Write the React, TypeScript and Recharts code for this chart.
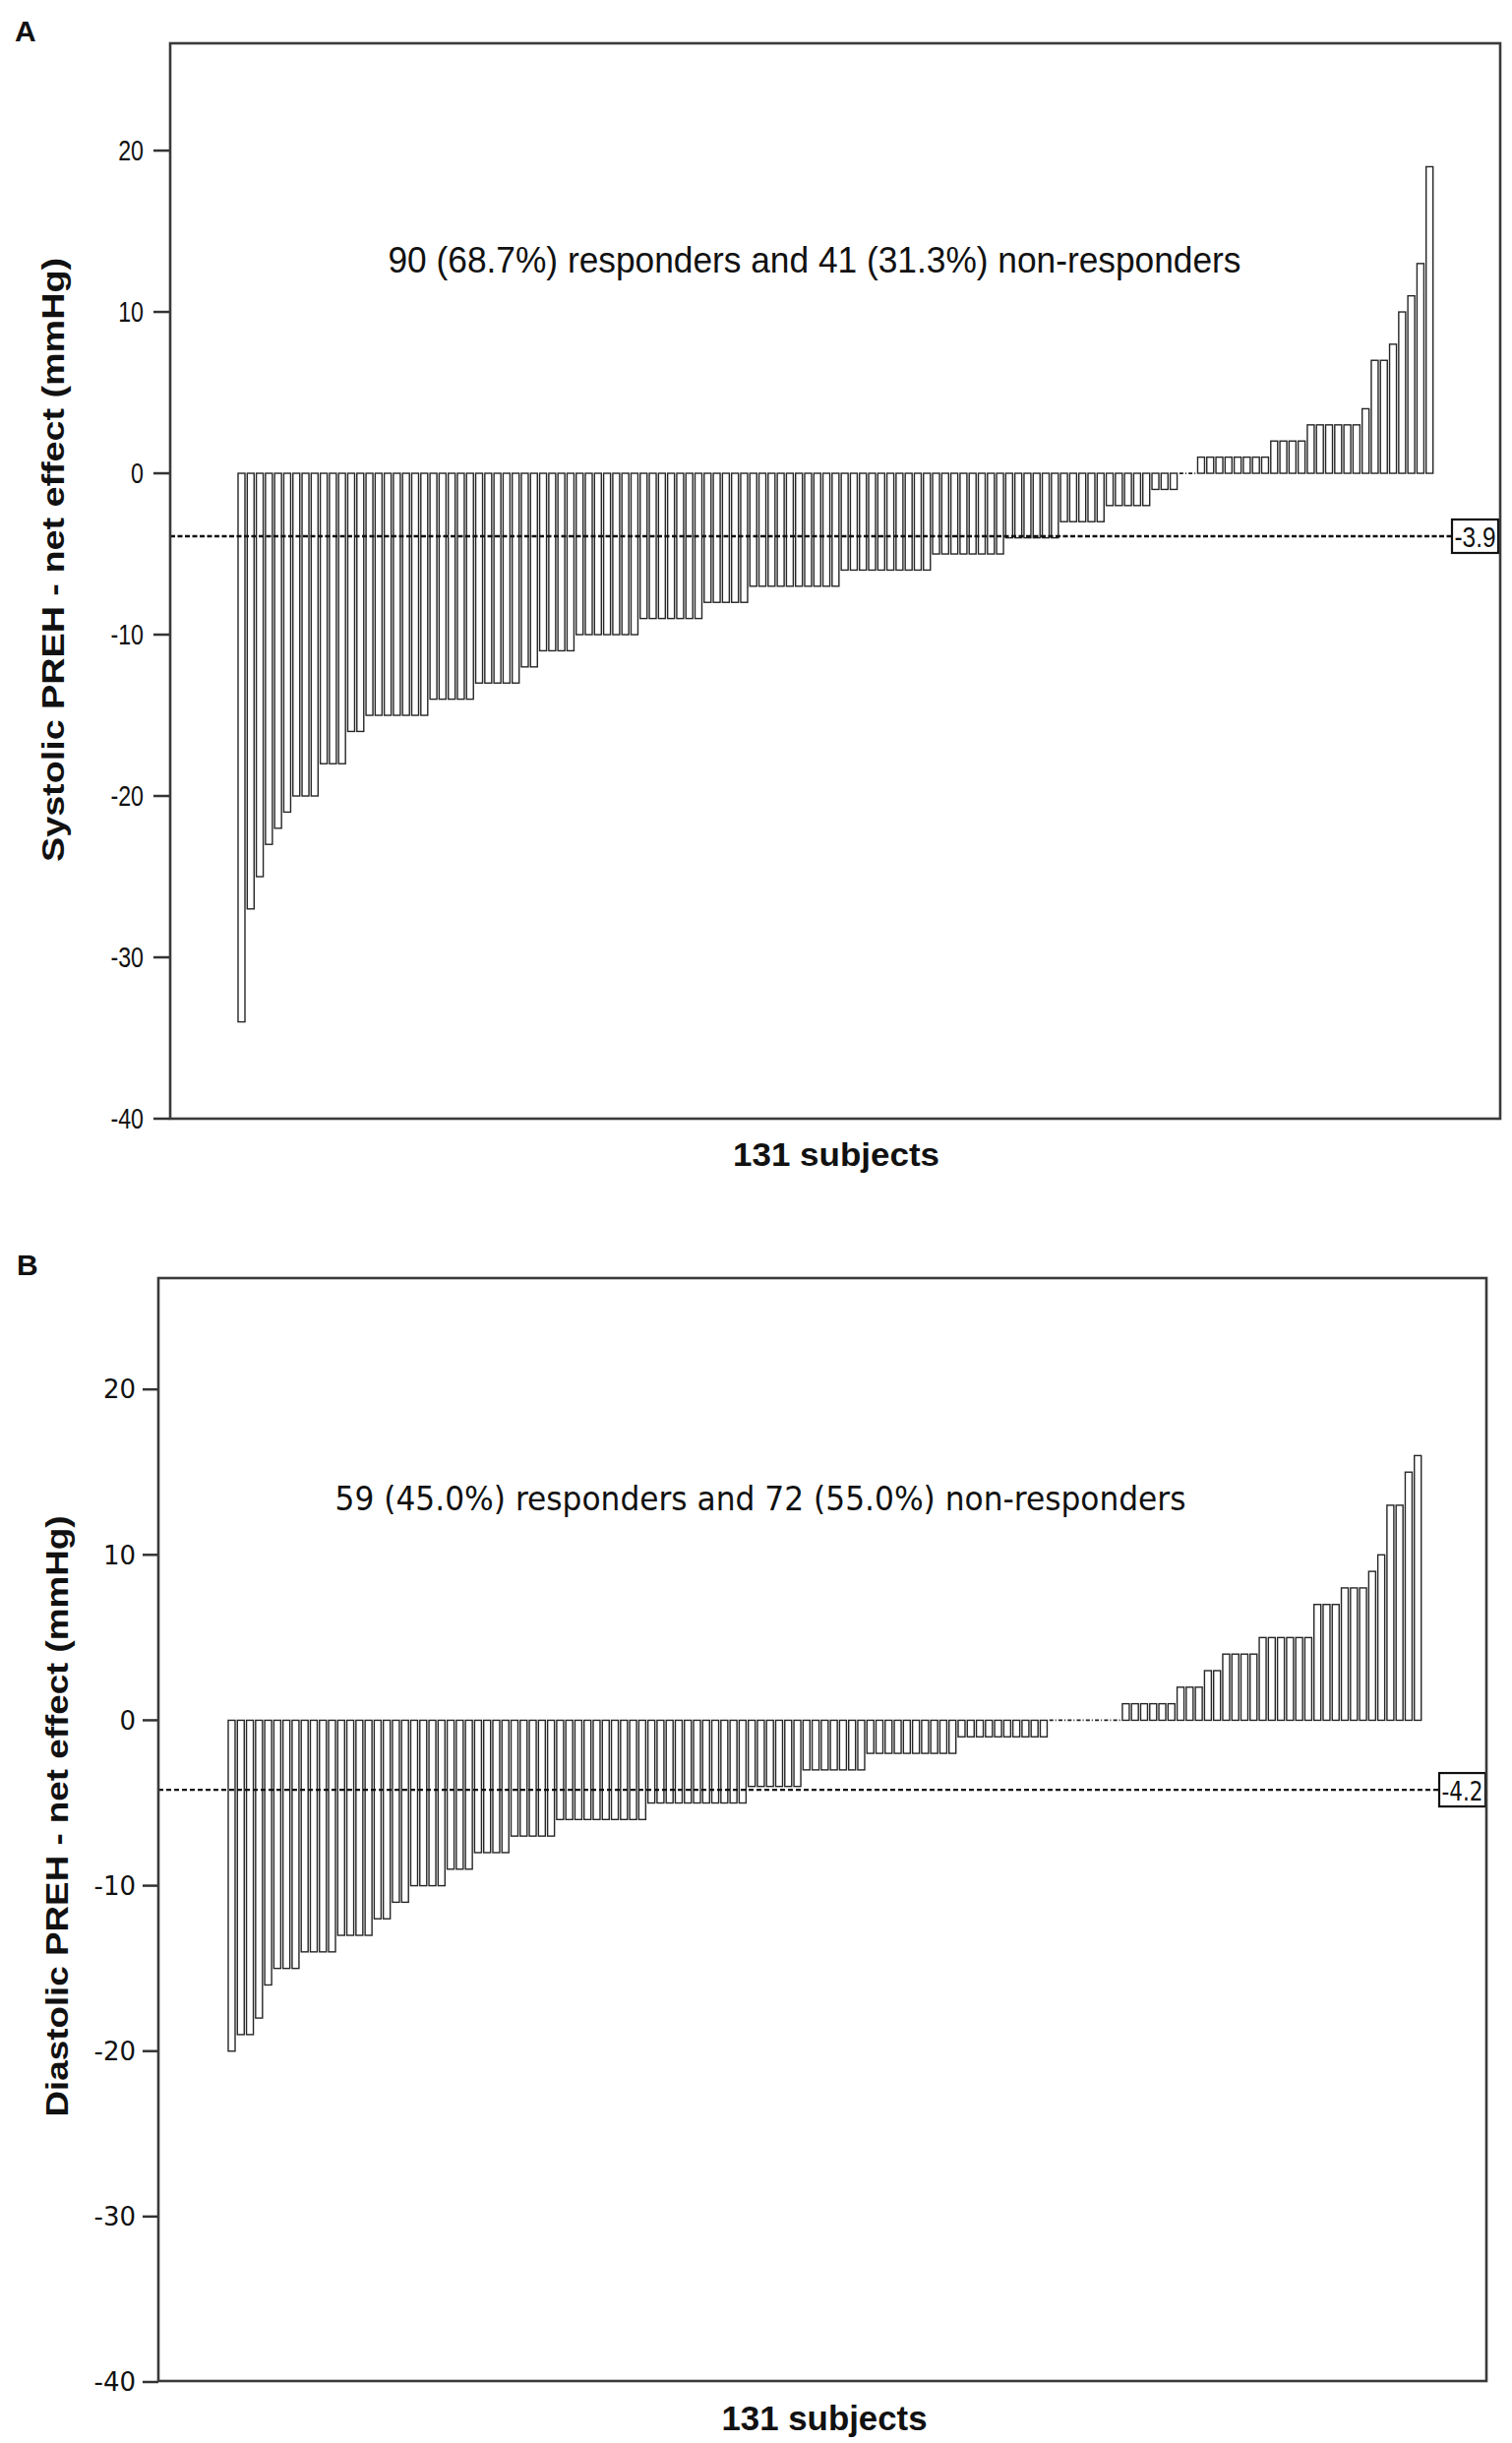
import React from 'react';
import { BarChart, Bar, XAxis, YAxis, ReferenceLine } from 'recharts';

// ---- Data ----
const subjectIds: number[] = Array.from({ length: 131 }, (_, i) => i + 1);

const systolicNetEffect: number[] = [
  -34, -27, -25, -23, -22, -21, -20, -20, -20, -18,
  -18, -18, -16, -16, -15, -15, -15, -15, -15, -15,
  -15, -14, -14, -14, -14, -14, -13, -13, -13, -13,
  -13, -12, -12, -11, -11, -11, -11, -10, -10, -10,
  -10, -10, -10, -10, -9, -9, -9, -9, -9, -9,
  -9, -8, -8, -8, -8, -8, -7, -7, -7, -7,
  -7, -7, -7, -7, -7, -7, -6, -6, -6, -6,
  -6, -6, -6, -6, -6, -6, -5, -5, -5, -5,
  -5, -5, -5, -5, -4, -4, -4, -4, -4, -4,
  -3, -3, -3, -3, -3, -2, -2, -2, -2, -2,
  -1, -1, -1, 0, 0, 1, 1, 1, 1, 1,
  1, 1, 1, 2, 2, 2, 2, 3, 3, 3,
  3, 3, 3, 4, 7, 7, 8, 10, 11, 13,
  19,
];

const diastolicNetEffect: number[] = [
  -20, -19, -19, -18, -16, -15, -15, -15, -14, -14,
  -14, -14, -13, -13, -13, -13, -12, -12, -11, -11,
  -10, -10, -10, -10, -9, -9, -9, -8, -8, -8,
  -8, -7, -7, -7, -7, -7, -6, -6, -6, -6,
  -6, -6, -6, -6, -6, -6, -5, -5, -5, -5,
  -5, -5, -5, -5, -5, -5, -5, -4, -4, -4,
  -4, -4, -4, -3, -3, -3, -3, -3, -3, -3,
  -2, -2, -2, -2, -2, -2, -2, -2, -2, -2,
  -1, -1, -1, -1, -1, -1, -1, -1, -1, -1,
  0, 0, 0, 0, 0, 0, 0, 0, 1, 1,
  1, 1, 1, 1, 2, 2, 2, 3, 3, 4,
  4, 4, 4, 5, 5, 5, 5, 5, 5, 7,
  7, 7, 8, 8, 8, 9, 10, 13, 13, 15,
  16,
];

const yTicks: number[] = [-40, -30, -20, -10, 0, 10, 20];
const systolicMean = -3.9;
const diastolicMean = -4.2;

const systolicData = subjectIds.map((id, i) => ({ id, value: systolicNetEffect[i] }));
const diastolicData = subjectIds.map((id, i) => ({ id, value: diastolicNetEffect[i] }));

const SANS = "'Liberation Sans', Arial, Helvetica, sans-serif";
const DEJAVU = "'DejaVu Sans', Verdana, sans-serif";

// ---- Custom shapes ----
const OutlineBar = (props: any) => {
  const { x, y, width, height } = props;
  if (x == null || y == null) return null;
  const top = Math.min(y, y + height);
  const h = Math.abs(height);
  if (h < 0.5) {
    return (
      <line x1={x} x2={x + width} y1={y} y2={y} stroke="#222" strokeWidth={1.8} strokeDasharray="4 2" />
    );
  }
  return <rect x={x} y={top} width={width} height={h} fill="#ffffff" stroke="#262626" strokeWidth={1.4} />;
};

// Narrow tick labels for panel A
const NarrowTick = (props: any) => {
  const { x, y, payload } = props;
  return (
    <g transform={`translate(${x},${y})`}>
      <text
        x={0}
        y={0}
        transform="scale(0.8,1)"
        textAnchor="end"
        dominantBaseline="central"
        fontSize={29}
        fontFamily={SANS}
        fill="#111"
      >
        {payload.value}
      </text>
    </g>
  );
};

const makeMeanBox = (text: string, fontFamily: string, inset: number, fontSize: number) => (p: any) => {
  const vb = p.viewBox || {};
  const { x = 0, y = 0, width = 0 } = vb;
  const bw = 47;
  const bh = 34;
  const bx = x + width - bw - inset;
  return (
    <g>
      <rect x={bx} y={y - bh / 2} width={bw} height={bh} fill="#ffffff" stroke="#111" strokeWidth={2.2} />
      <text
        x={bx + bw / 2}
        y={y + 1}
        textAnchor="middle"
        dominantBaseline="central"
        fontSize={fontSize}
        fontFamily={fontFamily}
        fill="#111"
        textLength={bw - 5}
        lengthAdjust="spacingAndGlyphs"
      >
        {text}
      </text>
    </g>
  );
};

export default function App() {
  return (
    <div style={{ position: 'absolute', left: 0, top: 0, width: 1537, height: 2483, background: '#ffffff' }}>
      {/* Panel A */}
      <div style={{ position: 'absolute', left: 0, top: 0 }}>
        <BarChart
          width={1537}
          height={1240}
          data={systolicData}
          margin={{ top: 44, right: 12, bottom: 103, left: 0 }}
          barCategoryGap={1}
        >
          <XAxis dataKey="id" hide padding={{ left: 68, right: 67 }} />
          <YAxis
            width={173}
            domain={[-40, 26.65]}
            ticks={yTicks}
            allowDataOverflow
            axisLine={false}
            tickLine={{ stroke: '#333', strokeWidth: 2.5 }}
            tickSize={17}
            tickMargin={10}
            tick={NarrowTick}
          />
          <Bar dataKey="value" shape={OutlineBar} isAnimationActive={false} />
          <ReferenceLine
            y={systolicMean}
            stroke="#111"
            strokeWidth={2.4}
            strokeDasharray="5 2.5"
            label={{ content: makeMeanBox(String(systolicMean), SANS, 2, 30) }}
          />
        </BarChart>
      </div>

      {/* Panel B */}
      <div style={{ position: 'absolute', left: 0, top: 1250 }}>
        <BarChart
          width={1537}
          height={1233}
          data={diastolicData}
          margin={{ top: 49, right: 26, bottom: 62, left: 0 }}
          barCategoryGap={1}
        >
          <XAxis dataKey="id" hide padding={{ left: 70, right: 65 }} />
          <YAxis
            width={161}
            domain={[-40, 26.73]}
            ticks={yTicks}
            allowDataOverflow
            axisLine={false}
            tickLine={{ stroke: '#333', strokeWidth: 2.5 }}
            tickSize={16}
            tickMargin={7}
            tick={{ fontSize: 26, fill: '#111', fontFamily: DEJAVU }}
          />
          <Bar dataKey="value" shape={OutlineBar} isAnimationActive={false} />
          <ReferenceLine
            y={diastolicMean}
            stroke="#111"
            strokeWidth={2.2}
            strokeDasharray="5 3"
            label={{ content: makeMeanBox(String(diastolicMean), DEJAVU, 1, 27) }}
          />
        </BarChart>
      </div>

      {/* Frames and titles */}
      <svg
        width={1537}
        height={2483}
        style={{ position: 'absolute', left: 0, top: 0, pointerEvents: 'none' }}
      >
        <rect x={173} y={44} width={1352} height={1093} fill="none" stroke="#3a3a3a" strokeWidth={2.6} />
        <rect x={161} y={1299} width={1350} height={1121} fill="none" stroke="#3a3a3a" strokeWidth={2.6} />

        <text x={15} y={42} fontSize={30} fontWeight="bold" fontFamily={SANS} fill="#111">A</text>
        <text x={17} y={1296} fontSize={30} fontWeight="bold" fontFamily={SANS} fill="#111">B</text>

        <text
          x={828}
          y={277}
          textAnchor="middle"
          fontSize={37}
          fontFamily={SANS}
          fill="#111"
          textLength={867}
          lengthAdjust="spacingAndGlyphs"
        >
          90 (68.7%) responders and 41 (31.3%) non-responders
        </text>
        <text
          x={773}
          y={1535}
          textAnchor="middle"
          fontSize={34}
          fontFamily={DEJAVU}
          fill="#111"
          textLength={865}
          lengthAdjust="spacingAndGlyphs"
        >
          59 (45.0%) responders and 72 (55.0%) non-responders
        </text>

        <text
          x={54}
          y={569}
          transform="rotate(-90 54 569)"
          textAnchor="middle"
          dominantBaseline="central"
          fontSize={31}
          fontWeight="bold"
          fontFamily={SANS}
          fill="#111"
          textLength={614}
          lengthAdjust="spacingAndGlyphs"
        >
          Systolic PREH - net effect (mmHg)
        </text>
        <text
          x={58}
          y={1846}
          transform="rotate(-90 58 1846)"
          textAnchor="middle"
          dominantBaseline="central"
          fontSize={32}
          fontWeight="bold"
          fontFamily={SANS}
          fill="#111"
          textLength={611}
          lengthAdjust="spacingAndGlyphs"
        >
          Diastolic PREH - net effect (mmHg)
        </text>

        <text
          x={850}
          y={1185}
          textAnchor="middle"
          fontSize={33}
          fontWeight="bold"
          fontFamily={SANS}
          fill="#111"
          textLength={210}
          lengthAdjust="spacingAndGlyphs"
        >
          131 subjects
        </text>
        <text
          x={838}
          y={2470}
          textAnchor="middle"
          fontSize={35}
          fontWeight="bold"
          fontFamily={SANS}
          fill="#111"
          textLength={209}
          lengthAdjust="spacingAndGlyphs"
        >
          131 subjects
        </text>
      </svg>
    </div>
  );
}
